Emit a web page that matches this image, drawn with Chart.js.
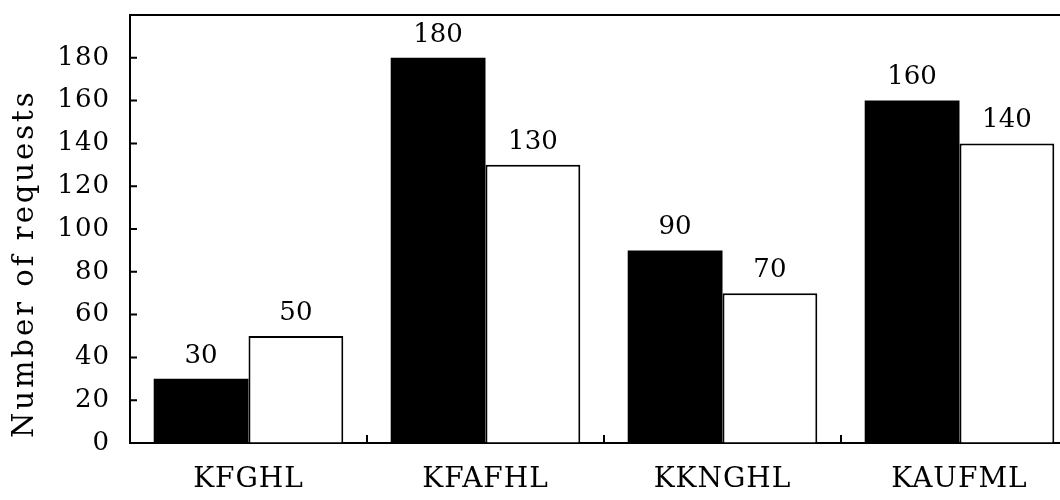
<!DOCTYPE html>
<html>
<head>
<meta charset="utf-8">
<script src="https://cdn.jsdelivr.net/npm/chart.js@4"></script>
<style>
  html, body { margin: 0; padding: 0; background: #fff; overflow: hidden; }
  #wrap { width: 1078px; height: 500px; }
</style>
</head>
<body>
<div id="wrap"><canvas id="c" width="1078" height="500"></canvas></div>
<script>
const categories = ["KFGHL", "KFAFHL", "KKNGHL", "KAUFML"];
const seriesBlack = [30, 180, 90, 160];
const seriesWhite = [50, 130, 70, 140];
const yTicks = [0, 20, 40, 60, 80, 100, 120, 140, 160, 180];
const yTitle = "Number of requests";

const FONT = "'DejaVu Serif', 'Liberation Serif', serif";

const decor = {
  id: 'decor',
  beforeDraw(chart) {
    chart.ctx.letterSpacing = '1px';
  },
  afterDraw(chart) {
    const { ctx, chartArea: ca, scales: { x, y } } = chart;
    ctx.save();
    ctx.strokeStyle = '#000';
    ctx.lineWidth = 2;
    ctx.beginPath();
    ctx.moveTo(ca.left, ca.top);
    ctx.lineTo(ca.right, ca.top);
    yTicks.forEach(v => {
      if (v === 0) return;
      const py = y.getPixelForValue(v);
      ctx.moveTo(ca.left, py);
      ctx.lineTo(ca.left + 7, py);
    });
    for (let i = 1; i < categories.length; i++) {
      const px = (x.getPixelForValue(i - 1) + x.getPixelForValue(i)) / 2;
      ctx.moveTo(px, ca.bottom);
      ctx.lineTo(px, ca.bottom - 8);
    }
    ctx.stroke();
    ctx.fillStyle = '#000';
    ctx.font = "26px " + FONT;
    ctx.letterSpacing = '0px';
    ctx.textAlign = 'center';
    ctx.textBaseline = 'middle';
    chart.data.datasets.forEach((ds, i) => {
      chart.getDatasetMeta(i).data.forEach((bar, j) => {
        ctx.fillText(String(ds.data[j]), bar.x, bar.y - 23);
      });
    });
    // y axis title
    ctx.translate(25, ca.bottom - 5);
    ctx.rotate(-Math.PI / 2);
    ctx.font = "29px " + FONT;
    ctx.letterSpacing = '3px';
    ctx.textAlign = 'left';
    ctx.fillText(yTitle, 0, 0);
    ctx.restore();
  }
};

new Chart(document.getElementById('c'), {
  type: 'bar',
  data: {
    labels: categories,
    datasets: [
      { data: seriesBlack, backgroundColor: '#000', borderWidth: 0,
        categoryPercentage: 0.8, barPercentage: 1.0 },
      { data: seriesWhite, backgroundColor: '#fff', borderColor: '#000', borderWidth: 2,
        categoryPercentage: 0.8, barPercentage: 1.0 }
    ]
  },
  options: {
    responsive: false,
    devicePixelRatio: 1,
    animation: false,
    layout: { padding: { top: 15, left: 0, right: 0, bottom: 0 } },
    plugins: { legend: { display: false }, tooltip: { enabled: false } },
    scales: {
      x: {
        grid: { drawOnChartArea: false, drawTicks: false },
        border: { color: '#000', width: 2 },
        ticks: { color: '#000', font: { family: FONT, size: 28 }, padding: 20 },
        afterFit(s) { s.height = 57; s.paddingLeft = 0; s.paddingRight = 0; }
      },
      y: {
        min: 0, max: 200,
        afterBuildTicks(s) { s.ticks = yTicks.map(v => ({ value: v })); },
        grid: { drawOnChartArea: false, drawTicks: false },
        border: { color: '#000', width: 2 },
        ticks: { color: '#000', font: { family: FONT, size: 26 }, padding: 20 },
        title: { display: false },
        afterFit(s) { s.width = 130; s.paddingTop = 0; s.paddingBottom = 0; }
      }
    }
  },
  plugins: [decor]
});
</script>
</body>
</html>
